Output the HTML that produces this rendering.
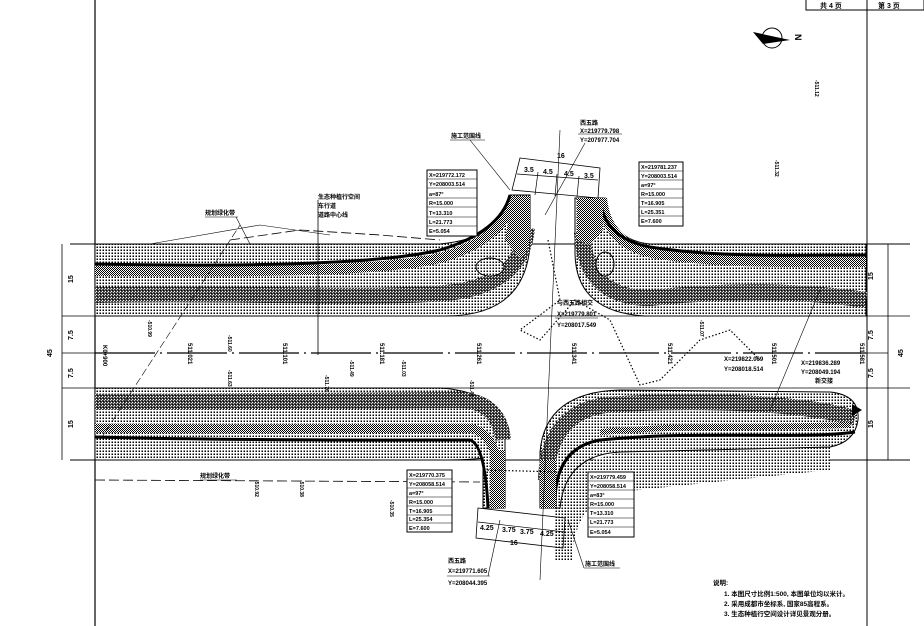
<!DOCTYPE html>
<html><head><meta charset="utf-8">
<style>
html,body{margin:0;padding:0;background:#fff;}
svg{display:block;}
text{font-family:"Liberation Sans","Noto Sans CJK SC",sans-serif;font-weight:bold;fill:#000;}
</style></head>
<body>
<svg width="924" height="626" viewBox="0 0 924 626" xmlns="http://www.w3.org/2000/svg">
<defs>
<pattern id="d" width="3" height="3" patternUnits="userSpaceOnUse"><rect width="3" height="3" fill="#fff"/><rect x="0.5" y="0.5" width="1.5" height="1.5" fill="#000"/></pattern>
<pattern id="s" width="3" height="3" patternUnits="userSpaceOnUse"><rect width="3" height="3" fill="#444"/><rect x="0" y="0" width="1" height="1" fill="#fff"/><rect x="2" y="1" width="1" height="1" fill="#ccc"/><rect x="1" y="2" width="1" height="1" fill="#000"/></pattern>
<pattern id="h" width="2" height="2" patternUnits="userSpaceOnUse"><rect width="2" height="2" fill="#fff"/><rect width="1" height="1" fill="#000"/><rect x="1" y="1" width="1" height="1" fill="#000"/></pattern>
</defs>
<rect width="924" height="626" fill="#fff"/>

<line x1="95" y1="0" x2="95" y2="626" stroke="#000" stroke-width="1.2"/>
<line x1="867" y1="0" x2="867" y2="626" stroke="#000" stroke-width="1"/>
<rect x="806" y="-1" width="118" height="11" fill="none" stroke="#000"/>
<text x="820" y="8" font-size="7">共 4 页</text>
<text x="878" y="8" font-size="7">第 3 页</text>

<circle cx="772" cy="38" r="10" fill="none" stroke="#000" stroke-width="1"/>
<path d="M753,32 L790,40 L763,44 Z" fill="#000"/>
<text x="795" y="42" font-size="9" transform="rotate(90 799 38)">N</text>

<line x1="70" y1="244" x2="910" y2="244" stroke="#000" stroke-width="1"/>
<line x1="70" y1="460" x2="910" y2="460" stroke="#000" stroke-width="1"/>
<line x1="95" y1="316" x2="910" y2="316" stroke="#000" stroke-width="0.8"/>
<line x1="95" y1="388" x2="910" y2="388" stroke="#000" stroke-width="0.8"/>
<line x1="95" y1="353" x2="866" y2="353" stroke="#000" stroke-width="1.2" stroke-dasharray="60,5,2,5"/>

<!-- UPPER LEFT -->
<path d="M95,244 L440,244 Q503,238 510,195 L530,195 L530,245 Q525,316 445,316 L95,316 Z" fill="url(#d)" stroke="#000" stroke-width="1"/>
<path d="M95,271 C250,272 380,272 440,258 Q503,240 515,196" fill="none" stroke="url(#h)" stroke-width="10"/>
<path d="M95,264 C250,267 380,264 440,250 Q500,232 510,195" fill="none" stroke="#000" stroke-width="3"/>
<path d="M95,295 C250,292 380,300 455,292 Q522,282 527,228" fill="none" stroke="url(#s)" stroke-width="16"/>
<path d="M512,196 L530,196 L530,235 Q528,255 520,258 L505,240 Z" fill="url(#h)"/>
<ellipse cx="490" cy="267" rx="14" ry="9" fill="url(#d)" stroke="#000" stroke-width="1"/>

<!-- UPPER RIGHT -->
<path d="M575,198 L605,198 Q610,240 650,244 L866,244 L866,316 L645,316 Q575,312 575,252 Z" fill="url(#d)" stroke="#000" stroke-width="1"/>
<path d="M602,198 Q606,243 652,253 C720,264 800,262 866,262" fill="none" stroke="url(#h)" stroke-width="10"/>
<path d="M600,198 Q603,238 650,247 C720,258 800,255 866,255" fill="none" stroke="#000" stroke-width="3"/>
<path d="M582,232 Q585,298 650,298 C720,290 800,290 866,300" fill="none" stroke="url(#s)" stroke-width="16"/>
<path d="M577,198 L603,198 L603,230 L590,245 L577,240 Z" fill="url(#h)"/>
<ellipse cx="605" cy="264" rx="9" ry="12" fill="url(#d)" stroke="#000" stroke-width="1"/>

<!-- LOWER LEFT -->
<path d="M95,388 L440,388 Q505,392 505,440 L505,508 L483,508 L483,458 Q470,460 440,460 L95,460 Z" fill="url(#d)" stroke="#000" stroke-width="1"/>
<path d="M95,402 C250,400 380,400 465,400 Q500,405 503,440" fill="none" stroke="url(#s)" stroke-width="16"/>
<path d="M95,428 C250,430 400,428 470,428 Q490,432 495,455" fill="none" stroke="url(#h)" stroke-width="9"/>
<path d="M95,437 C250,441 400,440 470,440 Q485,445 488,508" fill="none" stroke="#000" stroke-width="3"/>
<path d="M490,450 L505,450 L505,508 L490,508 Z" fill="url(#h)"/>

<!-- LOWER RIGHT -->
<path d="M560,470 L620,452 L830,447 L830,470 L620,492 Q575,500 572,560 L555,560 L555,508 Z" fill="url(#d)"/>
<path d="M540,508 L540,452 Q545,392 620,390 L830,392 Q860,395 858,420 Q855,442 830,447 L620,452 Q565,455 560,508 Z" fill="url(#d)" stroke="#000" stroke-width="1"/>
<path d="M546,480 Q548,405 620,404 C700,400 800,402 855,418" fill="none" stroke="url(#s)" stroke-width="16"/>
<path d="M555,508 Q553,448 600,440 C700,430 800,440 855,432" fill="none" stroke="#000" stroke-width="3"/>
<path d="M540,460 L556,460 L556,508 L540,508 Z" fill="url(#h)"/>
<path d="M600,432 C700,424 780,428 850,425" fill="none" stroke="url(#h)" stroke-width="6"/>
<path d="M852,404 L862,410 L852,416 Z" fill="#000"/>

<path d="M548,240 L560,300 L520,330 L540,340 L575,300 L610,320 L640,385 L660,380 L700,340 L730,330 L760,360" fill="none" stroke="#000" stroke-width="1.2" stroke-dasharray="1.5,2"/>
<path d="M484,470 L560,472" fill="none" stroke="#000" stroke-width="1.2" stroke-dasharray="1.5,2"/>
<path d="M230,240 L300,230 L380,235 L440,240" fill="none" stroke="#000" stroke-width="0.8" stroke-dasharray="10,4"/>
<path d="M95,480 L480,482" fill="none" stroke="#000" stroke-width="0.8" stroke-dasharray="10,4"/>
<path d="M150,244 L260,225 L330,235" fill="none" stroke="#000" stroke-width="0.6"/>
<line x1="100" y1="440" x2="240" y2="225" stroke="#000" stroke-width="0.6" stroke-dasharray="8,3"/>
<line x1="560" y1="130" x2="540" y2="580" stroke="#000" stroke-width="0.6"/>
<line x1="820" y1="290" x2="770" y2="410" stroke="#000" stroke-width="0.6"/>
<line x1="318" y1="200" x2="318" y2="355" stroke="#000" stroke-width="0.8"/>

<path d="M520,158 L600,168 L598,198 L512,190 Z" fill="none" stroke="#000" stroke-width="0.8"/>
<line x1="517" y1="174" x2="598" y2="180" stroke="#000" stroke-width="0.7"/>
<line x1="538" y1="172" x2="535" y2="195" stroke="#000" stroke-width="0.7"/>
<line x1="557" y1="174" x2="555" y2="196" stroke="#000" stroke-width="0.7"/>
<line x1="579" y1="176" x2="577" y2="197" stroke="#000" stroke-width="0.7"/>
<text x="557" y="158" font-size="7">16</text>
<text x="524" y="172" font-size="7">3.5</text>
<text x="543" y="174" font-size="7">4.5</text>
<text x="564" y="176" font-size="7">4.5</text>
<text x="584" y="178" font-size="7">3.5</text>

<path d="M478,508 L565,518 L563,548 L476,538 Z" fill="none" stroke="#000" stroke-width="0.8"/>
<line x1="478" y1="522" x2="565" y2="532" stroke="#000" stroke-width="0.7"/>
<text x="480" y="530" font-size="7">4.25</text>
<text x="502" y="532" font-size="7">3.75</text>
<text x="520" y="534" font-size="7">3.75</text>
<text x="540" y="536" font-size="7">4.25</text>
<text x="510" y="545" font-size="7">16</text>

<g font-size="5.5">
<rect x="427" y="170" width="50" height="66" fill="#fff" stroke="#000"/>
<g stroke="#000" stroke-width="0.6"><line x1="427" y1="179" x2="477" y2="179"/><line x1="427" y1="188" x2="477" y2="188"/><line x1="427" y1="198" x2="477" y2="198"/><line x1="427" y1="207" x2="477" y2="207"/><line x1="427" y1="217" x2="477" y2="217"/><line x1="427" y1="226" x2="477" y2="226"/></g>
<text x="429" y="177">X=219772.172</text><text x="429" y="186">Y=208003.514</text><text x="429" y="196">a=87°</text><text x="429" y="205">R=15.000</text><text x="429" y="215">T=13.310</text><text x="429" y="224">L=21.773</text><text x="429" y="233">E=5.054</text>

<rect x="639" y="162" width="44" height="64" fill="#fff" stroke="#000"/>
<g stroke="#000" stroke-width="0.6"><line x1="639" y1="171" x2="683" y2="171"/><line x1="639" y1="180" x2="683" y2="180"/><line x1="639" y1="189" x2="683" y2="189"/><line x1="639" y1="198" x2="683" y2="198"/><line x1="639" y1="207" x2="683" y2="207"/><line x1="639" y1="216" x2="683" y2="216"/></g>
<text x="641" y="169">X=219781.237</text><text x="641" y="178">Y=208003.514</text><text x="641" y="187">a=97°</text><text x="641" y="196">R=15.000</text><text x="641" y="205">T=16.905</text><text x="641" y="214">L=25.351</text><text x="641" y="223">E=7.600</text>

<rect x="407" y="470" width="45" height="62" fill="#fff" stroke="#000"/>
<g stroke="#000" stroke-width="0.6"><line x1="407" y1="479" x2="452" y2="479"/><line x1="407" y1="488" x2="452" y2="488"/><line x1="407" y1="497" x2="452" y2="497"/><line x1="407" y1="506" x2="452" y2="506"/><line x1="407" y1="515" x2="452" y2="515"/><line x1="407" y1="523" x2="452" y2="523"/></g>
<text x="409" y="477">X=219770.375</text><text x="409" y="486">Y=208058.514</text><text x="409" y="495">a=97°</text><text x="409" y="504">R=15.000</text><text x="409" y="513">T=16.905</text><text x="409" y="521">L=25.354</text><text x="409" y="530">E=7.600</text>

<rect x="588" y="472" width="46" height="65" fill="#fff" stroke="#000"/>
<g stroke="#000" stroke-width="0.6"><line x1="588" y1="481" x2="634" y2="481"/><line x1="588" y1="490" x2="634" y2="490"/><line x1="588" y1="499" x2="634" y2="499"/><line x1="588" y1="508" x2="634" y2="508"/><line x1="588" y1="518" x2="634" y2="518"/><line x1="588" y1="527" x2="634" y2="527"/></g>
<text x="590" y="479">X=219779.459</text><text x="590" y="488">Y=208058.514</text><text x="590" y="497">a=83°</text><text x="590" y="506">R=15.000</text><text x="590" y="515">T=13.310</text><text x="590" y="524">L=21.773</text><text x="590" y="534">E=5.054</text>
</g>

<g font-size="6">
<text x="580" y="125">西五路</text>
<text x="580" y="133">X=219779.798</text>
<text x="580" y="142">Y=207977.704</text>
<line x1="578" y1="134" x2="622" y2="134" stroke="#000" stroke-width="0.6"/>
<line x1="585" y1="143" x2="545" y2="215" stroke="#000" stroke-width="0.6"/>
<text x="451" y="138">施工范围线</text>
<line x1="450" y1="140" x2="485" y2="140" stroke="#000" stroke-width="0.6"/>
<line x1="470" y1="140" x2="510" y2="190" stroke="#000" stroke-width="0.6"/>
<text x="318" y="199">生态种植行空间</text>
<text x="318" y="208">车行道</text>
<text x="318" y="217">道路中心线</text>
<text x="205" y="215">规划绿化带</text>
<line x1="205" y1="217" x2="238" y2="217" stroke="#000" stroke-width="0.6"/>
<line x1="236" y1="217" x2="250" y2="244" stroke="#000" stroke-width="0.6"/>
<text x="200" y="478">规划绿化带</text>
<line x1="200" y1="480" x2="237" y2="480" stroke="#000" stroke-width="0.6"/>
<text x="557" y="305">与西五路相交</text>
<text x="557" y="316">X=219779.801</text>
<text x="557" y="327">Y=208017.549</text>
<line x1="555" y1="318" x2="598" y2="318" stroke="#000" stroke-width="0.6"/>
<text x="724" y="361">X=219822.069</text>
<text x="724" y="371">Y=208018.514</text>
<text x="801" y="365">X=219836.289</text>
<text x="801" y="374">Y=208049.194</text>
<text x="815" y="383">新交接</text>
<text x="448" y="563">西五路</text>
<text x="448" y="573">X=219771.605</text>
<text x="448" y="585">Y=208044.395</text>
<line x1="447" y1="576" x2="490" y2="576" stroke="#000" stroke-width="0.6"/>
<line x1="488" y1="576" x2="500" y2="520" stroke="#000" stroke-width="0.6"/>
<text x="585" y="566">施工范围线</text>
<line x1="584" y1="568" x2="620" y2="568" stroke="#000" stroke-width="0.6"/>
<line x1="584" y1="568" x2="568" y2="520" stroke="#000" stroke-width="0.6"/>
</g>

<g font-size="6">
<text transform="translate(103,353) rotate(90)" x="-8">K0+900</text>
<text transform="translate(188,353) rotate(90)" x="-10">511.021</text>
<text transform="translate(283,353) rotate(90)" x="-10">511.101</text>
<text transform="translate(380,353) rotate(90)" x="-10">511.181</text>
<text transform="translate(477,353) rotate(90)" x="-10">511.261</text>
<text transform="translate(572,353) rotate(90)" x="-10">511.341</text>
<text transform="translate(668,353) rotate(90)" x="-10">511.421</text>
<text transform="translate(772,353) rotate(90)" x="-10">511.501</text>
<text transform="translate(860,353) rotate(90)" x="-10">511.581</text>
</g>
<g font-size="5" font-weight="normal">
<text transform="translate(228,335) rotate(90)">-511.60</text>
<text transform="translate(228,370) rotate(90)">-511.63</text>
<text transform="translate(325,375) rotate(90)">-511.76</text>
<text transform="translate(350,360) rotate(90)">-511.49</text>
<text transform="translate(402,360) rotate(90)">-511.03</text>
<text transform="translate(470,380) rotate(90)">-511.48</text>
<text transform="translate(700,320) rotate(90)">-511.07</text>
<text transform="translate(775,160) rotate(90)">-511.32</text>
<text transform="translate(815,80) rotate(90)">-511.12</text>
<text transform="translate(148,320) rotate(90)">-510.99</text>
<text transform="translate(255,480) rotate(90)">-510.92</text>
<text transform="translate(300,480) rotate(90)">-510.38</text>
<text transform="translate(390,500) rotate(90)">-510.35</text>
</g>

<g stroke="#000" stroke-width="0.8">
<line x1="888" y1="244" x2="888" y2="460"/>
<line x1="866" y1="353" x2="888" y2="353"/>
</g>
<g font-size="7">
<text transform="translate(873,280) rotate(-90)">15</text>
<text transform="translate(873,340) rotate(-90)">7.5</text>
<text transform="translate(873,378) rotate(-90)">7.5</text>
<text transform="translate(873,428) rotate(-90)">15</text>
<text transform="translate(903,357) rotate(-90)">45</text>
<text transform="translate(73,283) rotate(-90)">15</text>
<text transform="translate(73,340) rotate(-90)">7.5</text>
<text transform="translate(73,378) rotate(-90)">7.5</text>
<text transform="translate(73,428) rotate(-90)">15</text>
<text transform="translate(52,357) rotate(-90)">45</text>
</g>
<line x1="62" y1="244" x2="62" y2="460" stroke="#000" stroke-width="0.8"/>
<line x1="62" y1="316" x2="95" y2="316" stroke="#000" stroke-width="0.8"/>
<line x1="62" y1="388" x2="95" y2="388" stroke="#000" stroke-width="0.8"/>
<line x1="62" y1="353" x2="95" y2="353" stroke="#000" stroke-width="0.8"/>

<g font-size="6.5">
<text x="713" y="585">说明:</text>
<text x="724" y="596">1. 本图尺寸比例1:500, 本图单位均以米计。</text>
<text x="724" y="606">2. 采用成都市坐标系, 国家85高程系。</text>
<text x="724" y="616">3. 生态种植行空间设计详见景观分册。</text>
</g>
</svg>
</body></html>
